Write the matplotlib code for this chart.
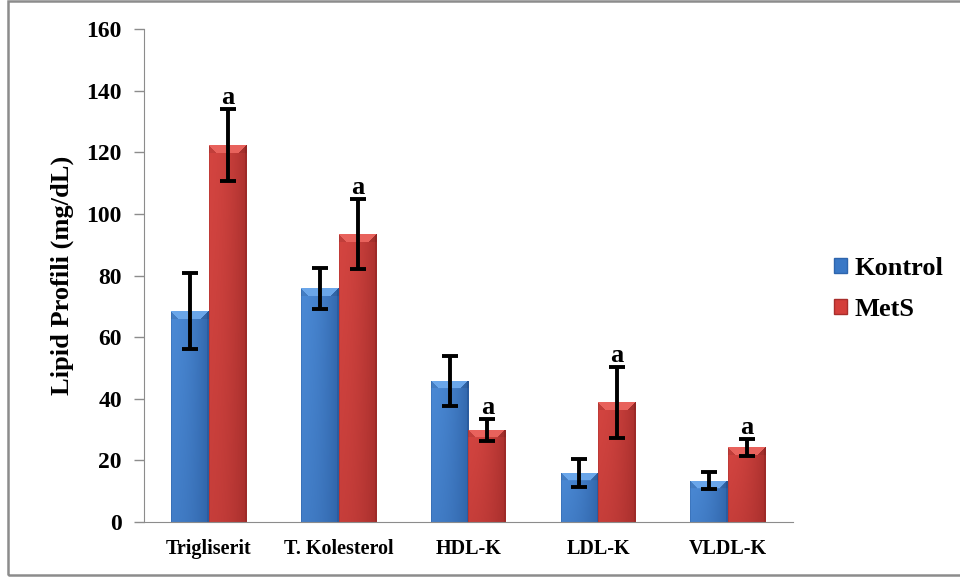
import numpy as np
import matplotlib
matplotlib.use("Agg")
import matplotlib.pyplot as plt
from matplotlib.patches import Rectangle
from matplotlib.colors import to_rgb

# veriler
categories = ['Trigliserit', 'T. Kolesterol', 'HDL-K', 'LDL-K', 'VLDL-K']
kontrol = [68.4, 75.8, 45.9, 16.0, 13.4]
kontrol_err = [12.4, 6.7, 8.1, 4.6, 2.7]
mets = [122.3, 93.4, 29.9, 38.8, 24.2]
mets_err = [11.7, 11.4, 3.5, 11.5, 2.7]
sig_labels = ['a', 'a', 'a', 'a', 'a']

plt.rcParams['font.family'] = ['Liberation Serif', 'DejaVu Serif']
plt.rcParams['font.weight'] = 'bold'

fig = plt.figure(figsize=(9.6, 5.77), dpi=100)
ax = fig.add_axes([0.15, 0.0953, 0.676, 0.8544])
ax.set_xlim(-0.5, 4.5)
ax.set_ylim(0, 160)

x = np.arange(len(categories))
w = 0.29


def gradient_bars(bars, light, dark, top):
    # Excel tarzi golgeli cubuk (ust kisimda bevel)
    light, dark, top = np.array(to_rgb(light)), np.array(to_rgb(dark)), np.array(to_rgb(top))
    px_per_x = ax.bbox.width / 5.0
    px_per_y = ax.bbox.height / 160.0
    for b in bars:
        x0, y0 = b.get_x(), b.get_y()
        bw, bh = b.get_width(), b.get_height()
        W = bw * px_per_x
        H = max(bh * px_per_y, 2)
        nx, ny = int(round(W)), int(round(H))
        xx = (np.arange(nx) + 0.5)[None, :] * np.ones((ny, 1))
        yd = (np.arange(ny) + 0.5)[:, None] * np.ones((1, nx))  # ustten mesafe
        t = xx / W
        f = 0.85 - 0.45 * t - 0.5 * np.abs(t - 0.35) ** 2
        f = f * (1 - 0.25 * yd / max(H, 60))
        edge = np.minimum(xx, W - xx)
        f = np.where(edge < 1.5, f - 0.25, f)
        f = np.clip(f, 0, 1)[..., None]
        img = dark + (light - dark) * f
        bev = 8
        mtop = (yd < bev) & (edge >= yd)
        img[mtop] = top
        mside = (yd < bev) & (edge < yd)
        img[mside] = img[mside] * 0.92
        img = img[::-1]
        im = ax.imshow(np.clip(img, 0, 1), extent=[x0, x0 + bw, y0, y0 + bh], origin='lower',
                       aspect='auto', interpolation='bilinear', zorder=2)
        im.set_clip_path(b)
        b.set_facecolor('none')


b1 = ax.bar(x - w / 2, kontrol, w, color='#3f7fcf', edgecolor='none', zorder=2, label='Kontrol')
b2 = ax.bar(x + w / 2, mets, w, color='#d43f3b', edgecolor='none', zorder=2, label='MetS')
gradient_bars(b1, '#5395e3', '#2a5c9f', '#6aa6ea')
gradient_bars(b2, '#e24c47', '#9e2a28', '#e8625c')

ax.errorbar(x - w / 2, kontrol, yerr=kontrol_err, fmt='none', ecolor='black',
            elinewidth=2.8, capsize=5.5, capthick=2.8, zorder=4)
ax.errorbar(x + w / 2, mets, yerr=mets_err, fmt='none', ecolor='black',
            elinewidth=2.8, capsize=5.5, capthick=2.8, zorder=4)

for xi, v, e, s in zip(x, mets, mets_err, sig_labels):
    ax.text(xi + w / 2, v + e + 1.7, s, ha='center', va='baseline', fontsize=19,
            fontweight='bold', zorder=5)

ax.set_xlim(-0.5, 4.5)
ax.set_ylim(0, 160)
ax.set_yticks(np.arange(0, 161, 20))
ax.set_xticks(x)
ax.set_xticklabels(categories, fontsize=14.5, fontweight='bold')
ax.tick_params(axis='y', labelsize=17, length=7, color='#8c8c8c', width=1, pad=9)
ax.tick_params(axis='x', length=0, pad=12)
for lab in ax.get_yticklabels():
    lab.set_fontweight('bold')
ax.set_ylabel('Lipid Profili (mg/dL)', fontsize=19, fontweight='bold', labelpad=9)

for side in ['top', 'right']:
    ax.spines[side].set_visible(False)
ax.spines['left'].set_color('#8c8c8c')
ax.spines['bottom'].set_color('#8c8c8c')

# lejant
h1 = Rectangle((0, 0), 1, 1, facecolor='#3a78c6', edgecolor='#2e65ad')
h2 = Rectangle((0, 0), 1, 1, facecolor='#d43f3b', edgecolor='#a82e2c')
fig.legend([h1, h2], ['Kontrol', 'MetS'], loc='center left', bbox_to_anchor=(0.869, 0.499),
           frameon=False, prop={'size': 19, 'weight': 'bold'}, handlelength=0.5,
           handleheight=0.5, handletextpad=0.25, labelspacing=0.7, borderaxespad=0,
           borderpad=0)

# cerceve
fig.patches.append(Rectangle((0.0083, 0.0035), 1.1, 0.994, transform=fig.transFigure,
                             fill=False, edgecolor='#8c8c8c', linewidth=1.8))

fig.savefig('out.png', dpi=100)
